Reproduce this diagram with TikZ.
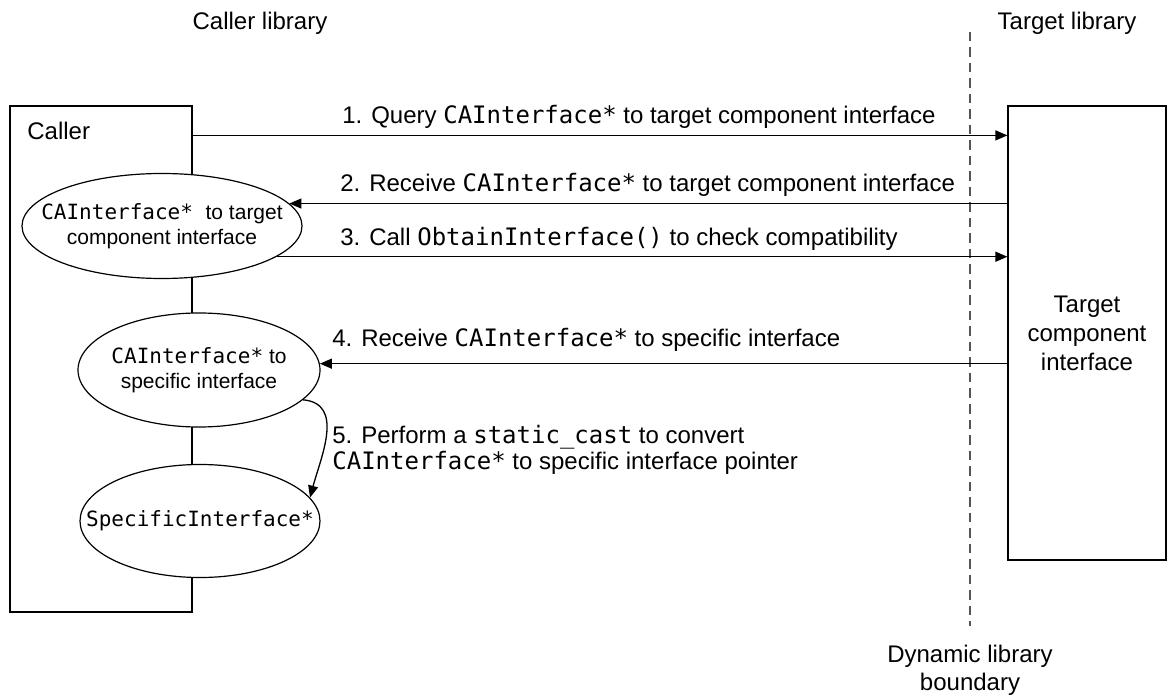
\documentclass[tikz,border=0pt]{standalone}
\usepackage{fontspec}
\setmainfont{Liberation Sans}
\setmonofont{DejaVu Sans Mono}
\usetikzlibrary{arrows.meta,shapes.geometric}
\definecolor{boundgray}{HTML}{555555}
\begin{document}
\begin{tikzpicture}[x=0.5pt, y=-0.5pt, font=\fontsize{12}{14}\selectfont,
		flow/.style={black, line width=0.65pt, -{Triangle[length=6pt, width=5pt]}},
		ptr/.style={draw, fill=white, ellipse, line width=0.6pt, inner sep=0pt},
		ptrtext/.style={align=center, inner sep=0pt, font=\fontsize{10.5}{12.5}\selectfont},
		msg/.style={anchor=west, inner sep=0pt, align=left}]
	\useasboundingbox (0,0) rectangle (1168,695);
	\node[inner sep=0pt] (callerlib) at (260,23) {Caller library};
	\node[inner sep=0pt] (targetlib) at (1067,23) {Target library};
	\node[draw, line width=0.6pt, minimum width=91pt, minimum height=253pt, inner sep=0pt] (callerbox) at (101,359) {};
	\node[inner sep=0pt, anchor=west] (caller) at (27,131) {Caller};
	\node[draw, line width=0.6pt, minimum width=79pt, minimum height=227pt, inner sep=0pt, align=center, font=\fontsize{12}{14.5}\selectfont] (targetbox) at (1087,333) {Target\\component\\interface};
	\node[ptr, minimum width=140pt, minimum height=52.5pt, label={[ptrtext]center:\texttt{CAInterface* }to target\\component interface}] (ptrtarget) at (162,226) {};
	\node[ptr, minimum width=121pt, minimum height=57pt, label={[ptrtext]center:\texttt{CAInterface*} to\\specific interface}] (ptrspecific) at (199,370) {};
	\node[ptr, minimum width=120pt, minimum height=56.5pt, label={[ptrtext]center:\texttt{SpecificInterface*}}] (specptr) at (200,521) {};
	\node[align=center, inner sep=0pt] (boundary) at (970,670) {Dynamic library\\boundary};
	\coordinate (boundtop) at (970,32);
	\draw[boundgray, line width=0.9pt, dash pattern=on 4.75pt off 3pt] (boundtop) -- ([yshift=9pt]boundary.north);
	\draw[flow] ([yshift=-15pt]callerbox.north east) -- ([yshift=-15pt]targetbox.north west);
	\draw[flow] (targetbox.west |- ptrtarget.10) -- (ptrtarget.10);
	\draw[flow] (ptrtarget.-15) -- (targetbox.west |- ptrtarget.-15);
	\draw[flow] (targetbox.west |- ptrspecific.3) -- (ptrspecific.3);
	\draw[flow] (ptrspecific.-16) to[out=-5, in=75, looseness=1.1] (specptr.12);
	\node[msg] (msgquery) at (342,117) {1. Query \texttt{CAInterface*} to target component interface};
	\node[msg] (msgreceive) at (340,185) {2. Receive \texttt{CAInterface*} to target component interface};
	\node[msg] (msgcall) at (340,239) {3. Call \texttt{ObtainInterface()} to check compatibility};
	\node[msg] (msgspecific) at (332,340) {4. Receive \texttt{CAInterface*} to specific interface};
	\node[msg, font=\fontsize{12}{13}\selectfont] (msgcast) at (332,450) {5. Perform a \texttt{static\char95 cast} to convert\\\texttt{CAInterface*} to specific interface pointer};
\end{tikzpicture}
\end{document}
